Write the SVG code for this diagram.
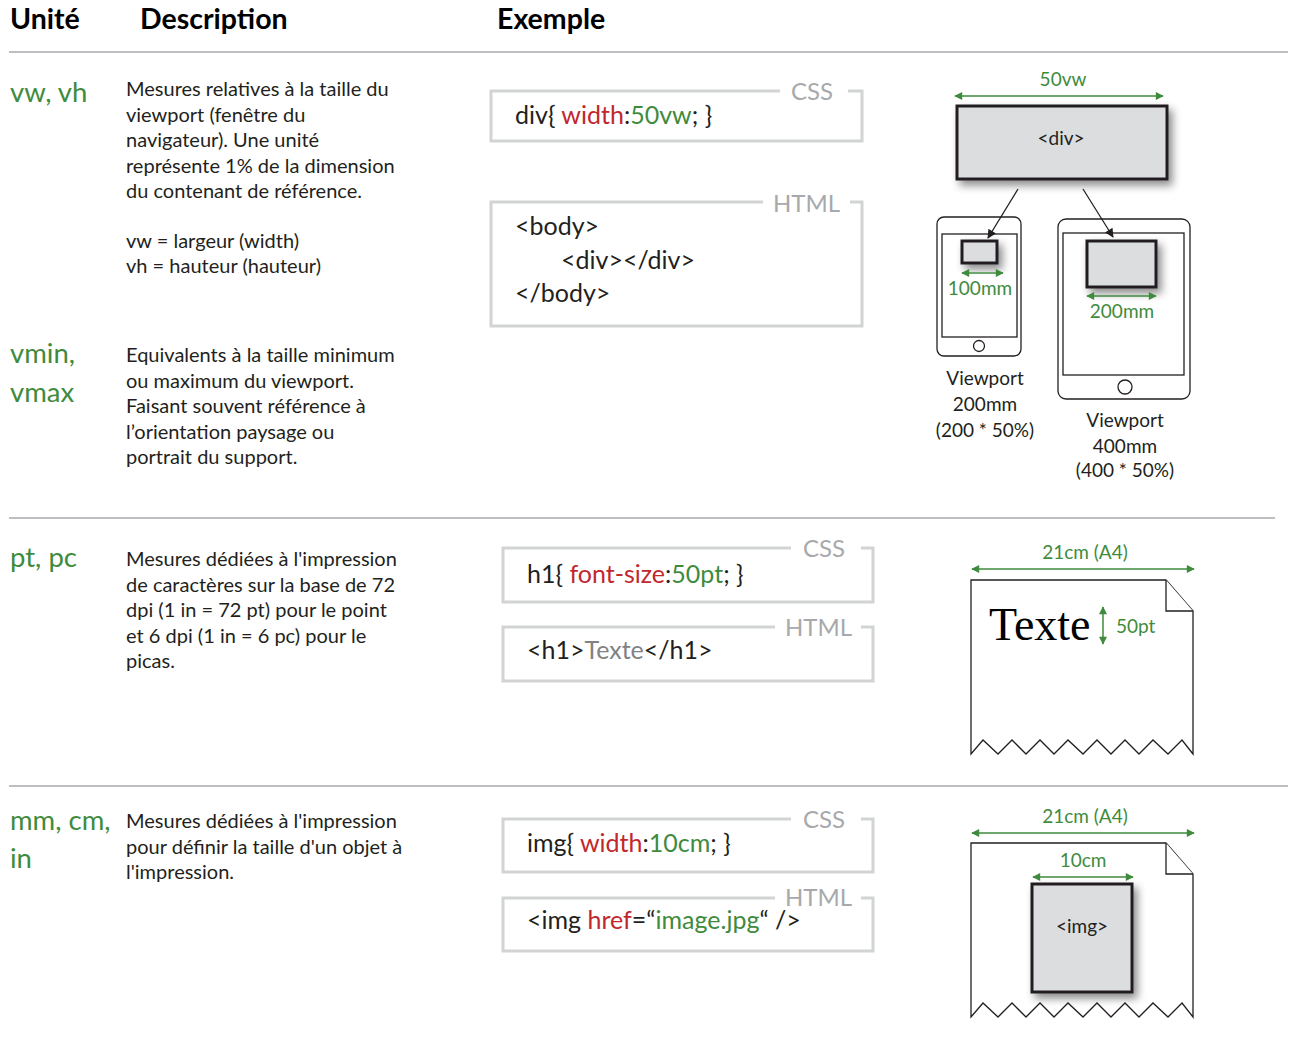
<svg xmlns="http://www.w3.org/2000/svg" width="1293" height="1057" viewBox="0 0 1293 1057">
<style>
text{font-family:Lato,"Open Sans","Liberation Sans",sans-serif;fill:#231f20}
.hd{font-weight:bold;font-size:28.5px;fill:#000}
.unit{font-size:27.5px;fill:#3f8b3d}
.desc{font-size:20px}
.code{font-size:25px}
.lbl{font-size:24px;fill:#a7a9ac}
.red{fill:#c1272d}
.grn{fill:#3f8b3d}
.gry{fill:#808285}
.sm{font-size:19px}
.gsm{font-size:19px;fill:#3f8b3d}
.sep{stroke:#a7a9ac;stroke-width:1.5;fill:none}
.box{stroke:#d1d3d4;stroke-width:3;fill:none}
.dim{stroke:#3f8b3d;stroke-width:1.5;fill:none;marker-start:url(#ga);marker-end:url(#ga)}
.blk{fill:#dcdddf;stroke:#231f20;stroke-width:3}
.dev{fill:#fff;stroke:#231f20;stroke-width:1.3}
.page{fill:#fff;stroke:#231f20;stroke-width:1.3}
.ptr{stroke:#231f20;stroke-width:1.3;fill:none;marker-end:url(#ba)}
</style>
<defs>
<marker id="ga" viewBox="0 0 10 10" refX="9" refY="5" markerWidth="9" markerHeight="8" markerUnits="userSpaceOnUse" orient="auto-start-reverse"><path d="M0,0 L10,5 L0,10 Z" fill="#3f8b3d"/></marker>
<marker id="ba" viewBox="0 0 10 10" refX="9" refY="5" markerWidth="11" markerHeight="9" markerUnits="userSpaceOnUse" orient="auto"><path d="M0,0 L10,5 L0,10 Z" fill="#231f20"/></marker>
<filter id="sh" x="-30%" y="-30%" width="170%" height="170%"><feDropShadow dx="4" dy="5" stdDeviation="4" flood-color="#000" flood-opacity="0.45"/></filter>
</defs>
<rect width="1293" height="1057" fill="#fff"/>

<g id="header">
<text class="hd" x="10" y="29">Unité</text>
<text class="hd" x="140" y="29">Description</text>
<text class="hd" x="497" y="29">Exemple</text>
</g>

<g id="separators">
<line class="sep" x1="9" y1="52" x2="1288" y2="52"/>
<line class="sep" x1="9" y1="518" x2="1275" y2="518"/>
<line class="sep" x1="9" y1="786" x2="1288" y2="786"/>
</g>

<g id="row-vw">
<text class="unit" x="10" y="102">vw, vh</text>
<text class="desc" x="126" y="96">Mesures relatives à la taille du</text>
<text class="desc" x="126" y="121.5">viewport (fenêtre du</text>
<text class="desc" x="126" y="147">navigateur). Une unité</text>
<text class="desc" x="126" y="172.5">représente 1% de la dimension</text>
<text class="desc" x="126" y="198">du contenant de référence.</text>
<text class="desc" x="126" y="248">vw = largeur (width)</text>
<text class="desc" x="126" y="273">vh = hauteur (hauteur)</text>
</g>

<g id="row-vmin">
<text class="unit" x="10" y="363">vmin,</text>
<text class="unit" x="10" y="402">vmax</text>
<text class="desc" x="126" y="362">Equivalents à la taille minimum</text>
<text class="desc" x="126" y="387.5">ou maximum du viewport.</text>
<text class="desc" x="126" y="413">Faisant souvent référence à</text>
<text class="desc" x="126" y="438.5">l’orientation paysage ou</text>
<text class="desc" x="126" y="464">portrait du support.</text>
</g>

<g id="row-pt">
<text class="unit" x="10" y="567">pt, pc</text>
<text class="desc" x="126" y="566">Mesures dédiées à l'impression</text>
<text class="desc" x="126" y="591.5">de caractères sur la base de 72</text>
<text class="desc" x="126" y="617">dpi (1 in = 72 pt) pour le point</text>
<text class="desc" x="126" y="642.5">et 6 dpi (1 in = 6 pc) pour le</text>
<text class="desc" x="126" y="668">picas.</text>
</g>

<g id="row-mm">
<text class="unit" x="10" y="830">mm, cm,</text>
<text class="unit" x="10" y="868">in</text>
<text class="desc" x="126" y="828">Mesures dédiées à l'impression</text>
<text class="desc" x="126" y="853.5">pour définir la taille d'un objet à</text>
<text class="desc" x="126" y="879">l'impression.</text>
</g>

<g id="code-css-vw">
<path class="box" d="M780,91 H491 V141 H862 V91 H848"/>
<text class="lbl" x="791" y="100">CSS</text>
<text class="code" x="515" y="124">div{ <tspan class="red">width</tspan>:<tspan class="grn">50vw</tspan>; }</text>
</g>
<g id="code-html-vw">
<path class="box" d="M763,202 H491 V326 H862 V202 H850"/>
<text class="lbl" x="773" y="212">HTML</text>
<text class="code" x="515" y="235">&lt;body&gt;</text>
<text class="code" x="561" y="269">&lt;div&gt;&lt;/div&gt;</text>
<text class="code" x="515" y="302">&lt;/body&gt;</text>
</g>

<g id="code-css-pt">
<path class="box" d="M791,548 H503 V602 H873 V548 H861"/>
<text class="lbl" x="803" y="557">CSS</text>
<text class="code" x="527" y="583">h1{ <tspan class="red">font-size</tspan>:<tspan class="grn">50pt</tspan>; }</text>
</g>
<g id="code-html-pt">
<path class="box" d="M775,627 H503 V681 H873 V627 H861"/>
<text class="lbl" x="785" y="636">HTML</text>
<text class="code" x="527" y="659">&lt;h1&gt;<tspan class="gry">Texte</tspan>&lt;/h1&gt;</text>
</g>

<g id="code-css-mm">
<path class="box" d="M791,819 H503 V872 H873 V819 H861"/>
<text class="lbl" x="803" y="828">CSS</text>
<text class="code" x="527" y="852">img{ <tspan class="red">width</tspan>:<tspan class="grn">10cm</tspan>; }</text>
</g>
<g id="code-html-mm">
<path class="box" d="M775,898 H503 V951 H873 V898 H861"/>
<text class="lbl" x="785" y="906">HTML</text>
<text class="code" x="527" y="929">&lt;img <tspan class="red">href</tspan>=“<tspan class="grn">image.jpg</tspan>“ /&gt;</text>
</g>

<g id="viewport-example">
<text class="gsm" x="1063" y="86" text-anchor="middle">50vw</text>
<rect class="blk" x="957" y="106" width="210" height="73" filter="url(#sh)"/>
<text class="sm" x="1061" y="145" text-anchor="middle">&lt;div&gt;</text>
<g id="phone">
<rect class="dev" x="937" y="217" width="84" height="139" rx="7"/>
<rect class="dev" x="942" y="234" width="75" height="103"/>
<circle class="dev" cx="979" cy="346" r="5.5"/>
<rect class="blk" x="962" y="241" width="35" height="22" stroke-width="2.5" filter="url(#sh)"/>
<text class="gsm" x="980" y="295" text-anchor="middle">100mm</text>
<text class="sm" x="985" y="385" text-anchor="middle">Viewport</text>
<text class="sm" x="985" y="411" text-anchor="middle">200mm</text>
<text class="sm" x="985" y="437" text-anchor="middle">(200 * 50%)</text>
</g>
<g id="tablet">
<rect class="dev" x="1058" y="219" width="132" height="180" rx="8"/>
<rect class="dev" x="1063" y="233" width="121" height="142"/>
<circle class="dev" cx="1125" cy="387" r="7"/>
<rect class="blk" x="1087" y="241" width="69" height="46" stroke-width="2.5" filter="url(#sh)"/>
<text class="gsm" x="1122" y="318" text-anchor="middle">200mm</text>
<text class="sm" x="1125" y="427" text-anchor="middle">Viewport</text>
<text class="sm" x="1125" y="453" text-anchor="middle">400mm</text>
<text class="sm" x="1125" y="477" text-anchor="middle">(400 * 50%)</text>
</g>
</g>

<g id="page-pt">
<text class="gsm" x="1085" y="559" text-anchor="middle">21cm (A4)</text>
<path class="page" d="M971,580 H1166 L1193,611 V754 L1182,740 L1168,754 L1153,740 L1139,754 L1125,740 L1111,754 L1097,740 L1083,754 L1068,740 L1054,754 L1040,740 L1026,754 L1012,740 L998,754 L983,740 L971,754 Z"/>
<path class="page" d="M1166,580 V611 H1193" fill="none"/>
<text x="989" y="640" style="font-family:'Liberation Serif','Times New Roman',serif;font-size:46px;fill:#000">Texte</text>
<text class="gsm" x="1116" y="633">50pt</text>
</g>

<g id="page-mm">
<text class="gsm" x="1085" y="823" text-anchor="middle">21cm (A4)</text>
<path class="page" d="M971,843 H1166 L1193,874 V1017 L1182,1003 L1168,1017 L1153,1003 L1139,1017 L1125,1003 L1111,1017 L1097,1003 L1083,1017 L1068,1003 L1054,1017 L1040,1003 L1026,1017 L1012,1003 L998,1017 L983,1003 L971,1017 Z"/>
<path class="page" d="M1166,843 V874 H1193" fill="none"/>
<text class="gsm" x="1083" y="867" text-anchor="middle">10cm</text>
<rect class="blk" x="1032" y="884" width="100" height="108" filter="url(#sh)"/>
<text class="sm" x="1082" y="933" text-anchor="middle">&lt;img&gt;</text>
</g>

<g id="connectors">
<line class="dim" x1="955" y1="96" x2="1163" y2="96"/>
<line class="ptr" x1="1018" y1="189" x2="988" y2="238"/>
<line class="ptr" x1="1083" y1="189" x2="1113" y2="237"/>
<line class="dim" x1="962" y1="273" x2="1003" y2="273"/>
<line class="dim" x1="1087" y1="296" x2="1156" y2="296"/>
<line class="dim" x1="972" y1="569" x2="1194" y2="569"/>
<line class="dim" x1="1103" y1="607" x2="1103" y2="644"/>
<line class="dim" x1="972" y1="833" x2="1194" y2="833"/>
<line class="dim" x1="1033" y1="877" x2="1133" y2="877"/>
</g>
</svg>
